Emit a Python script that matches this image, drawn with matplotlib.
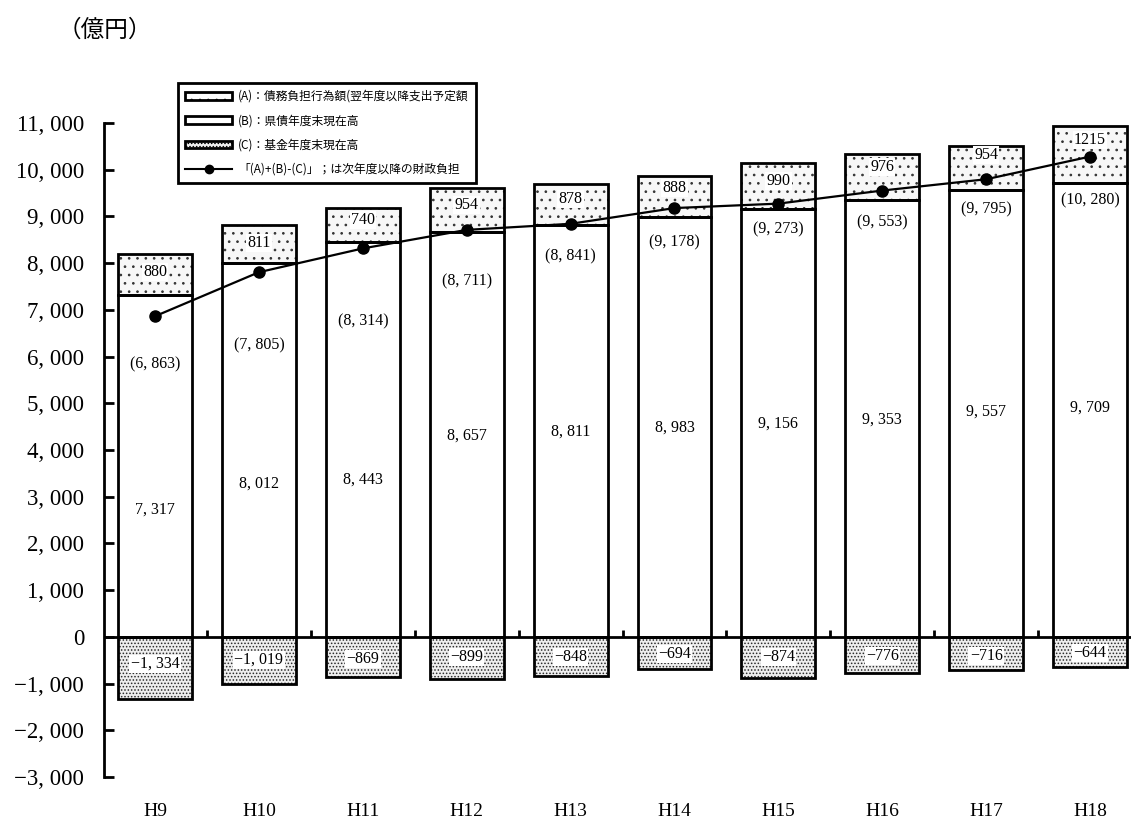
import matplotlib.pyplot as plt
import numpy as np
from matplotlib.patches import Patch
from matplotlib.lines import Line2D

plt.rcParams['hatch.linewidth'] = 0.7

years = ["H9", "H10", "H11", "H12", "H13", "H14", "H15", "H16", "H17", "H18"]
# (A) debt burden acts, (B) prefectural bonds, (C) funds
a_vals = [880, 811, 740, 954, 878, 888, 990, 976, 954, 1215]
b_vals = [7317, 8012, 8443, 8657, 8811, 8983, 9156, 9353, 9557, 9709]
c_vals = [-1334, -1019, -869, -899, -848, -694, -874, -776, -716, -644]
total = [6863, 7805, 8314, 8711, 8841, 9178, 9273, 9553, 9795, 10280]

yticks = [-3000, -2000, -1000, 0, 1000, 2000, 3000, 4000, 5000,
          6000, 7000, 8000, 9000, 10000, 11000]

# where the value labels sit (data units)
a_lab_y = [7811, 8431, 8924, 9245, 9373, 9608, 9758, 10058, 10315, 10636]
b_lab_y = [2718, 3274, 3360, 4301, 4387, 4472, 4558, 4644, 4815, 4900]
t_lab_y = [5842, 6249, 6762, 7618, 8153, 8453, 8731, 8881, 9159, 9351]
c_lab_y = [-578, -492, -471, -428, -428, -364, -428, -407, -407, -342]

SERIF = ['Liberation Serif', 'DejaVu Serif']
JP = ['Noto Sans CJK JP', 'DejaVu Sans']


def fmt(v):
    s = "{:,}".format(abs(v)).replace(",", ", ")
    return ("\u2212" + s) if v < 0 else s


x = np.arange(len(years))
w = 0.712

fig = plt.figure(figsize=(11.31, 8.23), dpi=100)
ax = fig.add_axes([103.5 / 1131, 0.0559, 1 - 103.5 / 1131, 0.879 - 0.0559])

# hatched fills, then black outlines
ax.bar(x, b_vals, w, color='white', linewidth=0, zorder=1)
ax.bar(x, a_vals, w, bottom=b_vals, color='#f7f7f7', edgecolor='#333333',
       hatch='..', linewidth=0, zorder=1)
ax.bar(x, c_vals, w, color='#eeeeee', edgecolor='#2a2a2a',
       hatch='.....', linewidth=0, zorder=1)
ax.bar(x, b_vals, w, fill=False, edgecolor='black', linewidth=2, zorder=2)
ax.bar(x, a_vals, w, bottom=b_vals, fill=False, edgecolor='black',
       linewidth=2, zorder=2)
ax.bar(x, c_vals, w, fill=False, edgecolor='black', linewidth=2, zorder=2)

ax.plot(x, total, color='black', linewidth=1.6, marker='o', markersize=8,
        zorder=5)

box = dict(boxstyle='square,pad=0.08', fc='white', ec='none')
for i in range(len(x)):
    ax.text(x[i], a_lab_y[i], str(a_vals[i]), ha='center', va='center',
            fontsize=11.5, family=SERIF, bbox=box, zorder=4)
    ax.text(x[i], b_lab_y[i], fmt(b_vals[i]), ha='center', va='center',
            fontsize=11.5, family=SERIF, zorder=4)
    ax.text(x[i], t_lab_y[i], "(" + fmt(total[i]) + ")", ha='center',
            va='center', fontsize=11.5, family=SERIF, zorder=4)
    ax.text(x[i], c_lab_y[i], fmt(c_vals[i]), ha='center', va='center',
            fontsize=11.5, family=SERIF, bbox=box, zorder=4)

# zero line with small ticks between years
ax.axhline(0, color='black', linewidth=2, zorder=3)
ax.vlines(x[:-1] + 0.5, 0, 150, color='black', linewidth=2, zorder=3)

ax.set_xlim(-0.496, 9.394)
ax.set_ylim(-3000, 11500)
ax.set_yticks(yticks)
ax.set_yticklabels([fmt(v) for v in yticks], family=SERIF, fontsize=16.5)
ax.set_xticks(x)
ax.set_xticklabels(years, family=SERIF, fontsize=14)
ax.tick_params(axis='x', length=0, pad=19)
ax.tick_params(axis='y', direction='in', length=7, width=2, pad=14)

for s in ['top', 'right', 'bottom']:
    ax.spines[s].set_visible(False)
ax.spines['left'].set_linewidth(2)
ax.spines['left'].set_bounds(-3000, 11000)

fig.text(105 / 1131, 1 - 30 / 823, "（億円）", family=JP, fontsize=17,
         ha='center', va='center')

handles = [
    Patch(facecolor='white', edgecolor='black', hatch='..', linewidth=2),
    Patch(facecolor='white', edgecolor='black', linewidth=2),
    Patch(facecolor='#eeeeee', edgecolor='black', hatch='.....', linewidth=2),
    Line2D([], [], color='black', marker='o', markersize=6, linewidth=1.5),
]
labels = [
    "(A)：債務負担行為額(翌年度以降支出予定額",
    "(B)：県債年度末現在高",
    "(C)：基金年度末現在高",
    "「(A)+(B)-(C)」；は次年度以降の財政負担",
]
leg = ax.legend(handles, labels, loc='upper left',
                bbox_to_anchor=(172 / 1131, 1 - 77 / 823),
                bbox_transform=fig.transFigure,
                prop={'family': JP, 'size': 8.5},
                frameon=True, fancybox=False, framealpha=1, handlelength=4,
                handleheight=0.6, labelspacing=0.95, borderpad=0.6,
                handletextpad=0.5)
leg.get_frame().set_edgecolor('black')
leg.get_frame().set_linewidth(2)
leg.set_zorder(6)

plt.savefig("out.png", dpi=100)
